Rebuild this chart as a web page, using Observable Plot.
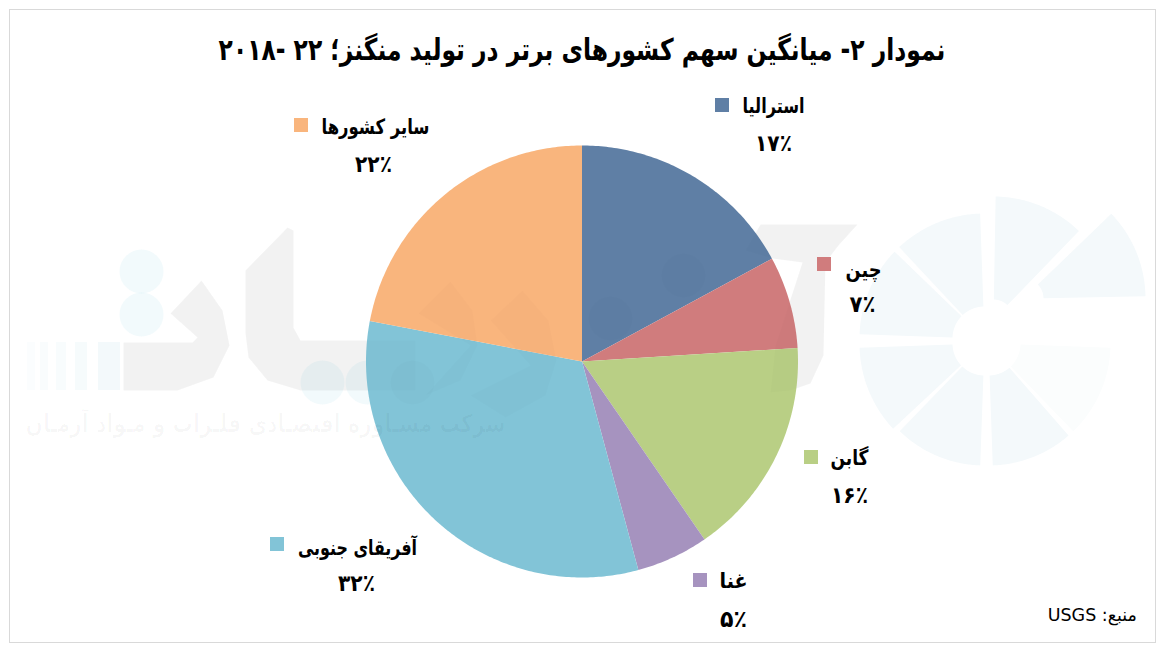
<!DOCTYPE html>
<html lang="fa">
<head>
<meta charset="utf-8">
<script src="https://cdn.jsdelivr.net/npm/d3@7"></script>
<script src="https://cdn.jsdelivr.net/npm/@observablehq/plot@0.6"></script>
<style>
html,body{margin:0;padding:0;background:#fff;width:1162px;height:649px;overflow:hidden}
#page{position:relative;width:1162px;height:649px;font-family:"DejaVu Sans",sans-serif}
#frame{position:absolute;left:9px;top:9px;width:1145px;height:632px;border:1px solid #d9d9d9}
#chart{position:absolute;left:0;top:0}
#chart svg{display:block}
#title{position:absolute;left:0;width:1164px;top:30px;text-align:center;direction:rtl;font-size:30px;font-weight:bold;color:#000;line-height:40px;white-space:nowrap;transform:scaleX(.78);transform-origin:582px 50px}
#source{position:absolute;right:25px;top:605px;direction:rtl;font-size:17.5px;color:#000;line-height:20px}
</style>
</head>
<body>
<div id="page">
<div id="frame"></div>
<div id="chart"></div>
<div id="title">نمودار ۲- میانگین سهم کشورهای برتر در تولید منگنز؛ ۲۲ -۲۰۱۸</div>
<div id="source">منبع: USGS</div>
</div>
<script>
const countries = ["استرالیا", "چین", "گابن", "غنا", "آفریقای جنوبی", "سایر کشورها"];
const shares = [17.1, 6.9, 16.4, 5.4, 32.2, 22.0];
const shareLabels = ["۱۷٪", "۷٪", "۱۶٪", "۵٪", "۳۲٪", "۲۲٪"];
const sliceColors = ["#5f7fa5", "#d07c7d", "#b9cf85", "#a693bf", "#82c4d7", "#f9b57d"];

const pieCenter = [581.5, 361];
const pieRadius = 216;
const swatchX = [715, 817, 804, 693, 270, 294];
const swatchY = [98, 257, 450, 573, 537, 118];
const swatchSize = 14;
const nameX = [773, 863, 849, 733, 357, 375];
const nameY = [106, 270, 458, 581, 548, 127];
const nameW = [62, 36, 38, 28, 119, 108];
const shareX = [773, 862, 849, 733, 356, 373];
const shareY = [143, 304, 495, 619, 583, 164];
const shareW = [37, 26, 37, 27, 37, 37];

const sum = d3.sum(shares);
const slicePoints = [];
let cum = 0;
countries.forEach((name, i) => {
  const a0 = cum / sum * 2 * Math.PI;
  cum += shares[i];
  const a1 = cum / sum * 2 * Math.PI;
  slicePoints.push(...sector(name, pieCenter[0], pieCenter[1], 0, pieRadius, a0, a1));
});
function sector(key, cx, cy, r0, r1, a0, a1) {
  const n = Math.max(2, Math.ceil((a1 - a0) * 80));
  const out = [];
  const at = (r, a) => ({key, x: cx + r * Math.sin(a), y: cy - r * Math.cos(a)});
  for (let k = 0; k <= n; k++) out.push(at(r1, a0 + (a1 - a0) * k / n));
  if (r0 > 0) for (let k = n; k >= 0; k--) out.push(at(r0, a0 + (a1 - a0) * k / n));
  else out.push(at(0, a0));
  return out;
}

// Faint background watermark (decoration, not data)
const deg = Math.PI / 180;
const logoWedges = [
  ...sector("a", 993, 319, 20, 123, 1 * deg, 44 * deg),
  ...sector("b", 1023, 298, 20, 122, 46 * deg, 89 * deg),
  ...sector("d", 988, 343, 32, 122, 139 * deg, 178 * deg),
  ...sector("e", 984, 343, 32, 122, 182 * deg, 224 * deg),
  ...sector("f", 984, 343, 32, 125, 227 * deg, 268 * deg),
  ...sector("g", 984, 338, 32, 125, 272 * deg, 314 * deg),
  ...sector("h", 984, 338, 32, 125, 317 * deg, 358 * deg)
];
const fadedWedge = sector("c", 988, 343, 32, 122, 92 * deg, 136 * deg);
const poly = (key, pts) => pts.map(([x, y]) => ({key, x, y}));
const greyShapes = [
  ...poly("fa", [[123,342],[192,342],[197,337],[170,313],[201,280],[222,310],[229,345],[213,377],[177,390],[123,390]]),
  ...poly("alef", [[245,270],[287,227],[293,230],[293,327],[300,340],[370,340],[415,340],[415,390],[300,390],[267,380],[248,357],[245,333]]),
  ...poly("leaf1", [[418,313],[450,281],[472,310],[477,345],[460,380],[425,395],[470,345]]),
  ...poly("leaf2", [[490,320],[522,290],[548,320],[556,360],[545,395],[505,417],[470,395],[530,365]]),
  ...poly("madd", [[760,224],[857,224],[838,245],[825,262],[823,355],[810,383],[790,390],[770,392],[775,345],[802,262],[772,258],[745,250]])
];
const blueDots = [[141,271],[141,314],[322,382],[367,382],[412,382],[610,318],[683,275]].map(([x, y]) => ({x, y}));
const stripes = [[27,8,"#fbfdfe"],[40,8,"#f9fcfd"],[56,10,"#f8fcfd"],[75,12,"#f6fbfc"],[98,22,"#f3f9fb"]]
  .map(([x, w, c]) => ({x1: x, x2: x + w, y1: 342, y2: 390, c}));

const idx = d3.range(countries.length);
const family = '"DejaVu Sans", sans-serif';
const textFont = {fontFamily: family, fontWeight: "bold", fill: "#000", textAnchor: "middle"};
const wmShape = {x: "x", y: "y", z: "key", stroke: "none", curve: "linear-closed"};
const wmText = "شرکت مشـاوره اقتصـادی فلـزات و مـواد آرمـان";

const plot = Plot.plot({
  width: 1162, height: 649,
  margin: 0,
  style: {background: "transparent", overflow: "visible"},
  x: {domain: [0, 1162], range: [0, 1162], axis: null},
  y: {domain: [0, 649], range: [0, 649], axis: null},
  color: {domain: countries, range: sliceColors},
  marks: [
    Plot.line(logoWedges, {...wmShape, fill: "#f4f9fb"}),
    Plot.line(fadedWedge, {...wmShape, fill: "#fbfdfd"}),
    Plot.rect(stripes, {x1: "x1", x2: "x2", y1: "y1", y2: "y2", fill: "c"}),
    Plot.line(greyShapes, {...wmShape, fill: "#000", fillOpacity: 0.04}),
    Plot.dot(blueDots, {x: "x", y: "y", r: 22, fill: "#6fc3dc", fillOpacity: 0.09}),
    Plot.line(slicePoints, {x: "x", y: "y", z: "key", fill: "key", stroke: "none", curve: "linear-closed"}),
    Plot.line(greyShapes, {...wmShape, fill: "#000", fillOpacity: 0.012}),
    Plot.dot(blueDots.filter(d => d.x > 400), {x: "x", y: "y", r: 22, fill: "#000", fillOpacity: 0.012}),
    Plot.text([wmText], {x: 265, y: 423, text: d => d, fontFamily: family, fontSize: 25, fontWeight: "bold", fill: "#000", fillOpacity: 0.028, textAnchor: "middle"}),
    Plot.rect(idx, {x1: i => swatchX[i], x2: i => swatchX[i] + swatchSize, y1: i => swatchY[i], y2: i => swatchY[i] + swatchSize, fill: i => countries[i]}),
    Plot.text(idx, {x: i => nameX[i], y: i => nameY[i], text: i => countries[i], fontSize: 21, ...textFont}),
    Plot.text(idx, {x: i => shareX[i], y: i => shareY[i], text: i => shareLabels[i], fontSize: 23, ...textFont})
  ]
});
// Fit the wide fallback font to the widths of the reference labels
d3.select(plot).selectAll("text").each(function () {
  const t = this.textContent;
  let w = null;
  if (t === wmText) w = 480;
  else if (countries.includes(t)) w = nameW[countries.indexOf(t)];
  else if (shareLabels.includes(t)) w = shareW[shareLabels.indexOf(t)];
  if (w) { this.setAttribute("textLength", w); this.setAttribute("lengthAdjust", "spacingAndGlyphs"); }
});
document.getElementById("chart").append(plot);
</script>
</body>
</html>
